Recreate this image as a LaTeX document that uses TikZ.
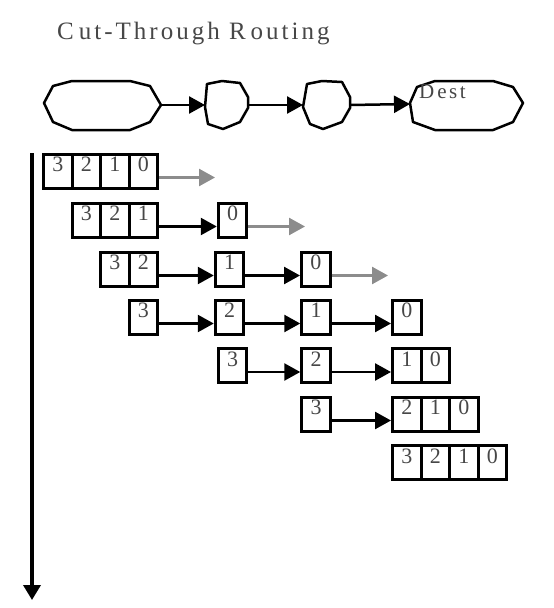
\documentclass[tikz,border=0pt]{standalone}
\usepackage{fontspec}
\setmainfont{Liberation Serif}
\newfontfamily\spacedfont[LetterSpace=12]{Liberation Serif}
\usetikzlibrary{arrows.meta}
\definecolor{txtgray}{gray}{0.28}
\definecolor{arrgray}{gray}{0.55}
\begin{document}
\begin{tikzpicture}[x=1pt,y=-1pt,
  cell/.style={draw, line width=3pt, minimum width=28.5pt, minimum height=34pt,
    inner sep=0pt, text height=17.5pt, text depth=16.5pt,
    font=\fontsize{22}{22}\selectfont, text=txtgray},
  blackarrow/.style={line width=2.5pt, -{Triangle[length=16pt,width=17pt]}},
  grayarrow/.style={draw=arrgray, line width=2.5pt, -{Triangle[length=16pt,width=17pt,fill=arrgray]}},
  router/.style={line width=2.5pt, line join=round},
  timearrow/.style={line width=3.5pt, -{Triangle[length=15pt,width=17pt]}},
  lbl/.style={anchor=base west, inner sep=0pt, text=txtgray}]
\fill[white] (0,0) rectangle (554,608);
\useasboundingbox (0,0) rectangle (554,608);

% title
\node[lbl, font=\spacedfont\fontsize{25}{25}\selectfont] (title) at (57,39) {C\kern5pt ut-Through R\kern5pt outing};

% routers
\draw[router] (44,103) -- (53,86) -- (72,81) -- (130,81) -- (150,86) -- (161,105)
  -- (150,122) -- (130,130) -- (72,130) -- (53,122) -- cycle;
\draw[router] (205,107) -- (207,84) -- (222,81) -- (240,83) -- (248,97) -- (248,108)
  -- (240,122) -- (223,129) -- (208,124) -- cycle;
\draw[router] (303,107) -- (307,84) -- (322,81) -- (342,82) -- (350,97) -- (350,108)
  -- (342,122) -- (323,129) -- (310,124) -- cycle;
\draw[router] (410,103) -- (417,87) -- (435,81) -- (493,81) -- (513,87) -- (523,103)
  -- (513,122) -- (493,130) -- (435,130) -- (413,122) -- cycle;
\node[lbl, font=\spacedfont\fontsize{21}{21}\selectfont] (destlbl) at (419,98) {D\kern3pt est};

\coordinate (srcE) at (161,105);
\coordinate (r2W) at (205,105);
\coordinate (r2E) at (248,105);
\coordinate (r3W) at (303,105);
\coordinate (r3E) at (350,105);
\coordinate (dstW) at (410,104);
\draw[blackarrow] (srcE) -- (r2W);
\draw[blackarrow] (r2E) -- (r3W);
\draw[blackarrow] (r3E) -- (dstW);

% time axis
\coordinate (tTop) at (32,153);
\coordinate (tBot) at (32,600);
\draw[timearrow] (tTop) -- (tBot);

% row 1
\node[cell] (r1a) at (57.75,171) {3};
\node[cell] (r1b) at (86.25,171) {2};
\node[cell] (r1c) at (114.75,171) {1};
\node[cell] (r1d) at (143.25,171) {0};
\coordinate (g1) at (215,177.5);
\draw[grayarrow] ([yshift=-6.5pt]r1d.east) -- (g1);

% row 2
\node[cell] (r2a) at (86.25,220) {3};
\node[cell] (r2b) at (114.75,220) {2};
\node[cell] (r2c) at (143.25,220) {1};
\node[cell] (r2d) at (232.5,220) {0};
\coordinate (g2) at (305,226.5);
\draw[blackarrow] ([yshift=-6.5pt]r2c.east) -- ([yshift=-6.5pt]r2d.west);
\draw[grayarrow] ([yshift=-6.5pt]r2d.east) -- (g2);

% row 3
\node[cell] (r3a) at (114.75,269) {3};
\node[cell] (r3b) at (143.25,269) {2};
\node[cell] (r3c) at (229.5,269) {1};
\node[cell] (r3d) at (315.75,269) {0};
\coordinate (g3) at (388,275.5);
\draw[blackarrow] ([yshift=-6.5pt]r3b.east) -- ([yshift=-6.5pt]r3c.west);
\draw[blackarrow] ([yshift=-6.5pt]r3c.east) -- ([yshift=-6.5pt]r3d.west);
\draw[grayarrow] ([yshift=-6.5pt]r3d.east) -- (g3);

% row 4
\node[cell] (r4a) at (143.25,317) {3};
\node[cell] (r4b) at (229.5,317) {2};
\node[cell] (r4c) at (316,317) {1};
\node[cell] (r4d) at (406.75,317) {0};
\draw[blackarrow] ([yshift=-6.5pt]r4a.east) -- ([yshift=-6.5pt]r4b.west);
\draw[blackarrow] ([yshift=-6.5pt]r4b.east) -- ([yshift=-6.5pt]r4c.west);
\draw[blackarrow] ([yshift=-6.5pt]r4c.east) -- ([yshift=-6.5pt]r4d.west);

% row 5
\node[cell] (r5a) at (232.5,365.5) {3};
\node[cell] (r5b) at (316,365.5) {2};
\node[cell] (r5c) at (406.75,365.5) {1};
\node[cell] (r5d) at (435.25,365.5) {0};
\draw[blackarrow] ([yshift=-6.5pt]r5a.east) -- ([yshift=-6.5pt]r5b.west);
\draw[blackarrow] ([yshift=-6.5pt]r5b.east) -- ([yshift=-6.5pt]r5c.west);

% row 6
\node[cell] (r6a) at (316,414) {3};
\node[cell] (r6b) at (406.75,414) {2};
\node[cell] (r6c) at (435.25,414) {1};
\node[cell] (r6d) at (463.75,414) {0};
\draw[blackarrow] ([yshift=-6.5pt]r6a.east) -- ([yshift=-6.5pt]r6b.west);

% row 7
\node[cell] (r7a) at (406.75,462.5) {3};
\node[cell] (r7b) at (435.25,462.5) {2};
\node[cell] (r7c) at (463.75,462.5) {1};
\node[cell] (r7d) at (492.25,462.5) {0};
\end{tikzpicture}
\end{document}
